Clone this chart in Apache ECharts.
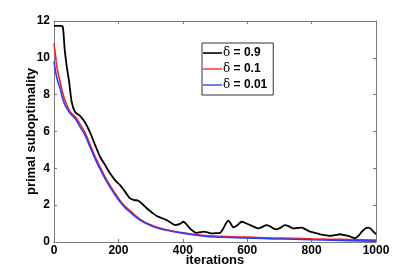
<!DOCTYPE html>
<html><head><meta charset="utf-8">
<script src="https://cdn.jsdelivr.net/npm/echarts@6/dist/echarts.min.js"></script>
<style>html,body{margin:0;padding:0;background:#fff}#c{width:415px;height:273px}</style>
</head><body><div id="c"></div>
<script>
const xTicks = [0, 200, 400, 600, 800, 1000];
const yTicks = [0, 2, 4, 6, 8, 10, 12];
const seriesNames = ['δ = 0.9', 'δ = 0.1', 'δ = 0.01'];
const itBlack = [0, 10, 20, 27, 33, 39, 47, 55, 65, 81, 96, 112, 128, 143, 158, 174, 190, 205, 220, 236, 250, 262, 275, 288, 304, 319, 335, 350, 363, 376, 391, 402, 412, 422, 433, 443, 454, 464, 477, 490, 503, 516, 526, 534, 541, 549, 557, 570, 583, 596, 609, 622, 634, 647, 660, 671, 681, 692, 704, 717, 730, 743, 756, 769, 782, 795, 810, 826, 842, 857, 872, 888, 901, 914, 925, 935, 946, 956, 966, 976, 985, 992, 1000];
const valBlack = [11.73, 11.73, 11.73, 11.7, 10.5, 9.6, 8.7, 7.6, 7.07, 6.85, 6.5, 5.95, 5.25, 4.63, 4.2, 3.73, 3.35, 3.09, 2.75, 2.37, 2.28, 2.24, 2.05, 1.83, 1.6, 1.41, 1.3, 1.19, 1.05, 0.92, 0.98, 1.1, 0.95, 0.74, 0.58, 0.5, 0.53, 0.56, 0.52, 0.47, 0.48, 0.5, 0.74, 1.0, 1.16, 1.0, 0.8, 0.92, 1.1, 1.02, 0.92, 0.82, 0.74, 0.82, 0.92, 0.85, 0.74, 0.69, 0.78, 0.92, 0.85, 0.74, 0.76, 0.78, 0.68, 0.56, 0.5, 0.42, 0.37, 0.33, 0.37, 0.42, 0.38, 0.33, 0.26, 0.2, 0.35, 0.56, 0.72, 0.78, 0.7, 0.56, 0.42];
const itRed = [0, 4, 8, 13, 19, 26, 34, 42, 50, 60, 70, 81, 96, 112, 128, 143, 158, 174, 190, 205, 220, 236, 252, 267, 282, 298, 313, 329, 345, 360, 386, 420, 460, 500, 560, 620, 680, 740, 800, 860, 920, 1000];
const valRed = [10.79, 10.2, 9.6, 9.15, 8.7, 8.15, 7.7, 7.35, 7.07, 6.9, 6.72, 6.4, 5.95, 5.3, 4.62, 4.08, 3.55, 3.07, 2.63, 2.26, 1.95, 1.7, 1.45, 1.24, 1.08, 0.95, 0.84, 0.76, 0.68, 0.62, 0.54, 0.45, 0.37, 0.32, 0.28, 0.25, 0.22, 0.2, 0.17, 0.15, 0.13, 0.1];
const itBlue = [0, 4, 8, 13, 19, 26, 34, 42, 50, 60, 70, 81, 96, 112, 128, 143, 158, 174, 190, 205, 220, 236, 252, 267, 282, 298, 313, 329, 345, 360, 386, 420, 460, 500, 560, 620, 680, 740, 800, 860, 920, 1000];
const valBlue = [9.79, 9.35, 8.98, 8.65, 8.34, 7.85, 7.44, 7.2, 6.99, 6.8, 6.6, 6.25, 5.82, 5.16, 4.5, 3.97, 3.45, 2.98, 2.55, 2.18, 1.88, 1.63, 1.39, 1.19, 1.04, 0.91, 0.8, 0.72, 0.65, 0.6, 0.52, 0.42, 0.33, 0.27, 0.24, 0.21, 0.17, 0.15, 0.12, 0.1, 0.07, 0.05];

const zip = (a, b) => a.map((x, i) => [x, b[i]]);
const chart = echarts.init(document.getElementById('c'), null, {renderer: 'canvas'});
const axisCol = '#7a7a7a';
const lblFont = {color: '#000', fontWeight: 'bold', fontSize: 12, fontFamily: 'Liberation Sans, Arial, sans-serif'};
chart.setOption({
  animation: false,
  backgroundColor: '#fff',
  grid: {left: 54, right: 39, top: 21, bottom: 31, containLabel: false, outerBoundsMode: 'none'},
  legend: {
    orient: 'vertical', left: 202, top: 43,
    data: seriesNames,
    icon: 'rect', itemWidth: 19, itemHeight: 1.6, itemGap: 4,
    padding: [4, 6, 4, 1],
    borderColor: '#333', borderWidth: 1, backgroundColor: '#fff',
    formatter: n => '{d|δ}{b|' + n.slice(1) + '}',
    textStyle: {
      padding: [0, 0, 0, -4],
      rich: {
        d: {fontFamily: 'DejaVu Serif, serif', fontSize: 12, color: '#000'},
        b: {fontFamily: 'Liberation Sans, Arial, sans-serif', fontWeight: 'bold', fontSize: 12, color: '#000'}
      }
    }
  },
  xAxis: [{
    type: 'value', min: 0, max: 1000, interval: 200,
    name: 'iterations', nameLocation: 'middle', nameGap: 12, nameMoveOverlap: false,
    nameTextStyle: {fontWeight: 'bold', fontSize: 13, color: '#000', fontFamily: 'Liberation Sans, Arial, sans-serif', verticalAlign: 'top'},
    axisLine: {show: true, onZero: false, lineStyle: {color: axisCol, width: 1}},
    axisTick: {show: true, inside: true, length: 3, lineStyle: {color: axisCol}},
    axisLabel: Object.assign({margin: 3, formatter: v => String(v)}, lblFont),
    splitLine: {show: false}
  }, {
    type: 'value', min: 0, max: 1000, interval: 200, position: 'top',
    axisLine: {show: true, onZero: false, lineStyle: {color: axisCol, width: 1}},
    axisTick: {show: true, inside: true, length: 3, lineStyle: {color: axisCol}},
    axisLabel: {show: false}, splitLine: {show: false}
  }],
  yAxis: [{
    type: 'value', min: 0, max: 12, interval: 2,
    name: 'primal suboptimality', nameLocation: 'middle', nameGap: 16, nameMoveOverlap: false,
    nameTextStyle: {fontWeight: 'bold', fontSize: 13, color: '#000', fontFamily: 'Liberation Sans, Arial, sans-serif', verticalAlign: 'bottom'},
    axisLine: {show: true, onZero: false, lineStyle: {color: axisCol, width: 1}},
    axisTick: {show: true, inside: true, length: 3, lineStyle: {color: axisCol}},
    axisLabel: Object.assign({margin: 4}, lblFont),
    splitLine: {show: false}
  }, {
    type: 'value', min: 0, max: 12, interval: 2, position: 'right',
    axisLine: {show: true, onZero: false, lineStyle: {color: axisCol, width: 1}},
    axisTick: {show: true, inside: true, length: 3, lineStyle: {color: axisCol}},
    axisLabel: {show: false}, splitLine: {show: false}
  }],
  series: [
    {name: seriesNames[0], type: 'line', data: zip(itBlack, valBlack), showSymbol: false, smooth: 0.3, lineStyle: {color: '#000', width: 1.8}, itemStyle: {color: '#000'}, z: 3},
    {name: seriesNames[1], type: 'line', data: zip(itRed, valRed), showSymbol: false, smooth: 0.3, lineStyle: {color: '#ff2020', width: 1.6}, itemStyle: {color: '#ff4040'}, z: 2},
    {name: seriesNames[2], type: 'line', data: zip(itBlue, valBlue), showSymbol: false, smooth: 0.3, lineStyle: {color: '#2a3cff', width: 1.6}, itemStyle: {color: '#4a5cff'}, z: 4}
  ]
});
</script></body></html>
